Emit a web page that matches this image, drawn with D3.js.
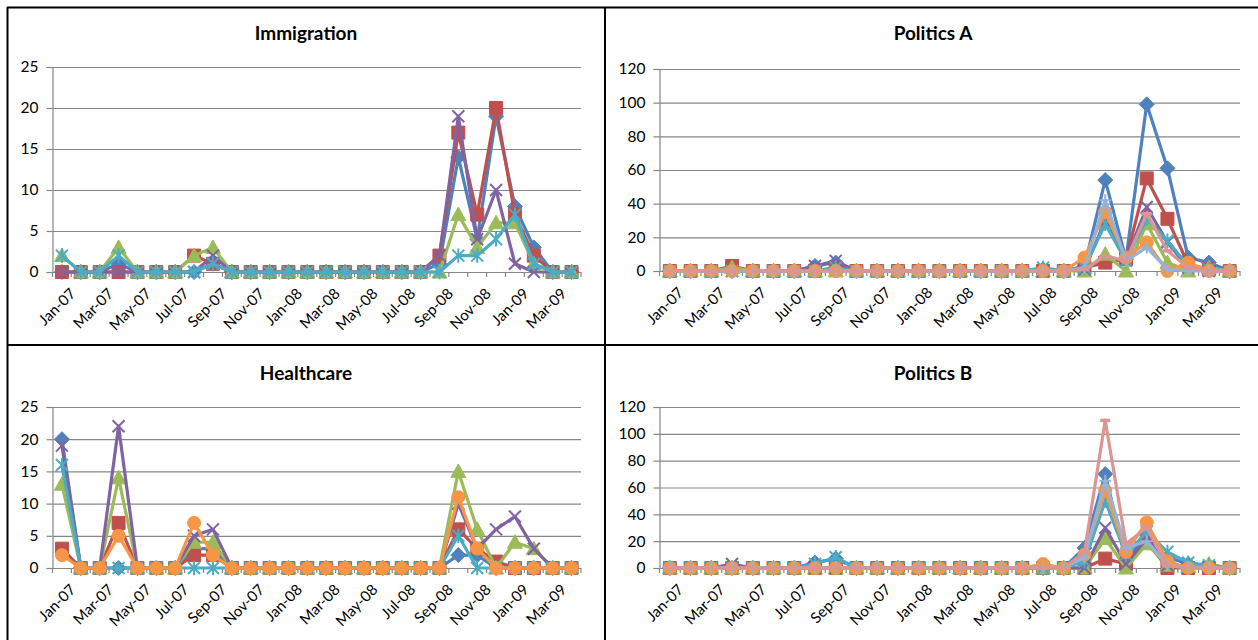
<!DOCTYPE html>
<html>
<head>
<meta charset="utf-8">
<script src="https://cdn.jsdelivr.net/npm/d3@7"></script>
<style>
  html, body { margin: 0; padding: 0; background: #fff; }
  svg { display: block; font-family: Lato, "Open Sans", sans-serif; }
</style>
</head>
<body>
<svg id="chart" width="1258" height="640"></svg>
<script>
// Monthly categories
const months = ["Jan-07","Feb-07","Mar-07","Apr-07","May-07","Jun-07","Jul-07","Aug-07","Sep-07","Oct-07","Nov-07","Dec-07",
                "Jan-08","Feb-08","Mar-08","Apr-08","May-08","Jun-08","Jul-08","Aug-08","Sep-08","Oct-08","Nov-08","Dec-08",
                "Jan-09","Feb-09","Mar-09","Apr-09"];
const tickLabels = ["Jan-07","Mar-07","May-07","Jul-07","Sep-07","Nov-07","Jan-08","Mar-08","May-08","Jul-08","Sep-08","Nov-08","Jan-09","Mar-09"];

// Immigration
const immS1 = [0,0,0,1,0,0,0,0,1,0,0,0,0,0,0,0,0,0,0,0,1,14,4,19,8,3,0,0];
const immS2 = [0,0,0,0,0,0,0,2,1,0,0,0,0,0,0,0,0,0,0,0,2,17,7,20,7,2,0,0];
const immS3 = [2,0,0,3,0,0,0,2,3,0,0,0,0,0,0,0,0,0,0,0,0,7,3,6,6,1,0,0];
const immS4 = [0,0,0,0,0,0,0,0,2,0,0,0,0,0,0,0,0,0,0,0,2,19,4,10,1,0,0,0];
const immS5 = [2,0,0,2,0,0,0,0,1,0,0,0,0,0,0,0,0,0,0,0,0,2,2,4,7,1,0,0];

// Healthcare
const hcS1 = [20,0,0,0,0,0,0,3,3,0,0,0,0,0,0,0,0,0,0,0,0,2,2,0,0,0,0,0];
const hcS2 = [3,0,0,7,0,0,0,2,2,0,0,0,0,0,0,0,0,0,0,0,0,6,3,1,0,0,0,0];
const hcS3 = [13,0,0,14,0,0,0,4,4,0,0,0,0,0,0,0,0,0,0,0,0,15,6,0,4,3,0,0];
const hcS4 = [19,0,0,22,0,0,0,5,6,0,0,0,0,0,0,0,0,0,0,0,0,10,3,6,8,3,0,0];
const hcS5 = [16,0,0,0,0,0,0,0,0,0,0,0,0,0,0,0,0,0,0,0,0,5,0,0,0,0,0,0];
const hcS6 = [2,0,0,5,0,0,0,7,2,0,0,0,0,0,0,0,0,0,0,0,0,11,3,0,0,0,0,0];

// Politics A
const paS1 = [0,0,0,0,0,0,0,3,5,0,0,0,0,0,0,0,0,0,1,0,3,54,7,99,61,8,5,0];
const paS2 = [0,0,0,3,0,0,0,0,2,0,0,0,0,0,0,0,0,0,0,0,2,5,7,55,31,4,1,0];
const paS3 = [0,0,0,2,0,0,0,0,0,0,0,0,0,0,0,0,0,0,0,0,0,10,0,28,5,0,2,0];
const paS4 = [0,0,0,0,0,0,0,3,6,0,0,0,0,0,0,0,0,0,0,0,1,30,7,38,17,2,0,0];
const paS5 = [0,0,0,0,0,0,0,0,2,0,0,0,0,0,0,0,0,0,2,0,2,28,6,31,18,3,1,0];
const paS6 = [0,0,0,0,0,0,0,0,0,0,0,0,0,0,0,0,0,0,0,0,8,35,8,17,0,5,0,0];
const paS7 = [0,0,0,0,0,0,0,0,0,0,0,0,0,0,0,0,0,0,0,0,2,42,6,14,1,0,0,0];
const paS8 = [0,0,0,0,0,0,0,0,0,0,0,0,0,0,0,0,0,0,0,0,1,9,6,34,12,2,0,0];

// Politics B
const pbS1 = [0,0,0,0,0,0,0,4,7,0,0,0,0,0,0,0,0,0,0,0,15,70,5,25,8,3,1,0];
const pbS2 = [0,0,0,0,0,0,0,0,0,0,0,0,0,0,0,0,0,0,0,0,0,7,3,20,0,0,0,0];
const pbS3 = [0,0,0,0,0,0,0,0,0,0,0,0,0,0,0,0,0,0,0,0,0,22,0,18,2,1,3,0];
const pbS4 = [0,0,0,3,0,0,0,0,0,0,0,0,0,0,0,0,0,0,0,0,0,30,3,22,2,0,0,0];
const pbS5 = [0,0,0,0,0,0,0,3,8,0,0,0,0,0,0,0,0,0,0,0,5,50,10,27,12,4,2,0];
const pbS6 = [0,0,0,0,0,0,0,0,0,0,0,0,0,0,0,0,0,0,3,0,10,58,12,34,5,0,0,0];
const pbS7 = [0,0,0,0,0,0,0,0,0,0,0,0,0,0,0,0,0,0,0,0,8,65,15,20,2,0,0,0];
const pbS8 = [0,0,0,0,0,0,0,0,0,0,0,0,0,0,0,0,0,0,0,0,12,110,18,30,2,0,0,0];

const seriesColors  = ["#4F81BD","#C0504D","#9BBB59","#8064A2","#4BACC6","#F79646","#95B3D7","#D99694"];
const seriesMarkers = ["diamond","square","triangle","x","star","circle","plus","dash"];

// Marker shapes (size argument = half-width in px)
const shapes = {
  diamond:  { draw(c, r) { c.moveTo(0,-r); c.lineTo(r,0); c.lineTo(0,r); c.lineTo(-r,0); c.closePath(); } },
  square:   { draw(c, r) { c.rect(-r,-r,2*r,2*r); } },
  triangle: { draw(c, r) { c.moveTo(0,-r); c.lineTo(r,r*0.8); c.lineTo(-r,r*0.8); c.closePath(); } },
  circle:   { draw(c, r) { c.moveTo(r,0); c.arc(0,0,r,0,2*Math.PI); } },
  x:        { draw(c, r) { c.moveTo(-r,-r); c.lineTo(r,r); c.moveTo(r,-r); c.lineTo(-r,r); } },
  star:     { draw(c, r) { c.moveTo(-r,-r); c.lineTo(r,r); c.moveTo(r,-r); c.lineTo(-r,r); c.moveTo(0,-r*1.2); c.lineTo(0,r*1.2); } },
  plus:     { draw(c, r) { c.moveTo(-r,0); c.lineTo(r,0); c.moveTo(0,-r); c.lineTo(0,r); } },
  dash:     { draw(c, r) { c.moveTo(-r,0); c.lineTo(r,0); } }
};
const markerSize = { diamond:7.5, square:6.5, triangle:7.5, circle:6.5, x:6, star:6, plus:6, dash:5 };
const filledMarkers = new Set(["diamond","square","triangle","circle"]);

const panels = [
  { title:"Immigration", series:[immS1,immS2,immS3,immS4,immS5], yMax:25, yStep:5,
    left:52.5, right:581, top:67, bottom:272, titleX:306, titleY:40 },
  { title:"Politics A", series:[paS1,paS2,paS3,paS4,paS5,paS6,paS7,paS8], yMax:120, yStep:20,
    left:659.5, right:1240, top:69, bottom:271, titleX:933, titleY:40 },
  { title:"Healthcare", series:[hcS1,hcS2,hcS3,hcS4,hcS5,hcS6], yMax:25, yStep:5,
    left:52.5, right:581, top:407, bottom:568, titleX:306, titleY:380 },
  { title:"Politics B", series:[pbS1,pbS2,pbS3,pbS4,pbS5,pbS6,pbS7,pbS8], yMax:120, yStep:20,
    left:659.5, right:1240, top:407, bottom:568, titleX:933, titleY:380 }
];

const svg = d3.select("#chart");
const gridColor = "#878787";

panels.forEach(p => {
  const g = svg.append("g");
  const x = d3.scaleBand().domain(months).range([p.left, p.right]).padding(0);
  const y = d3.scaleLinear().domain([0, p.yMax]).range([p.bottom, p.top]);
  const cx = d => x(d) + x.bandwidth() / 2;
  const yTicks = d3.range(0, p.yMax + 1, p.yStep);

  // Horizontal gridlines
  const grid = g.append("g").attr("transform", `translate(${p.left},0)`)
    .call(d3.axisLeft(y).tickValues(yTicks).tickSize(-(p.right - p.left)).tickFormat(""));
  grid.select(".domain").remove();
  grid.selectAll("line").attr("stroke", gridColor).attr("stroke-width", 1.2);

  // Value axis with labels
  const ya = g.append("g").attr("transform", `translate(${p.left},0)`)
    .call(d3.axisLeft(y).tickValues(yTicks).tickSize(6).tickPadding(8));
  ya.select(".domain").attr("stroke", gridColor).attr("stroke-width", 1.2);
  ya.selectAll("line").attr("stroke", gridColor).attr("stroke-width", 1.2);
  ya.selectAll("text").attr("fill", "#000").style("font-size", "15.5px")
    .style("font-family", "Lato, 'Open Sans', sans-serif");

  // Category tick marks between months
  const bounds = months.map(m => x(m)).concat([p.right]);
  g.append("g").selectAll("line").data(bounds).join("line")
    .attr("x1", d => d).attr("x2", d => d)
    .attr("y1", p.bottom).attr("y2", p.bottom + 5)
    .attr("stroke", gridColor).attr("stroke-width", 1.2);

  // Rotated category labels
  g.append("g").selectAll("text").data(tickLabels).join("text")
    .attr("transform", d => `translate(${cx(d) + 7},${p.bottom + 15}) rotate(-45)`)
    .attr("text-anchor", "end")
    .attr("dy", "0.72em")
    .style("font-size", "15px")
    .attr("fill", "#000")
    .text(d => d);

  // Series lines and markers
  const line = d3.line().x((v, i) => cx(months[i])).y(v => y(v));
  p.series.forEach((vals, si) => {
    const color = seriesColors[si];
    const mk = seriesMarkers[si];
    g.append("path").datum(vals)
      .attr("d", line)
      .attr("fill", "none")
      .attr("stroke", color)
      .attr("stroke-width", 3.2)
      .attr("stroke-linejoin", "round");
    const sym = d3.symbol().type(shapes[mk]).size(markerSize[mk]);
    const filled = filledMarkers.has(mk);
    g.append("g").selectAll("path").data(vals).join("path")
      .attr("transform", (v, i) => `translate(${cx(months[i])},${y(v)})`)
      .attr("d", sym)
      .attr("fill", filled ? color : "none")
      .attr("stroke", color)
      .attr("stroke-width", filled ? 1 : (mk === "dash" ? 3.5 : 2));
  });

  // Panel title
  g.append("text")
    .attr("x", p.titleX).attr("y", p.titleY)
    .attr("text-anchor", "middle")
    .style("font-size", "19px").style("font-weight", "bold")
    .attr("fill", "#000")
    .text(p.title);
});

// Panel frame
const frame = svg.append("g").attr("stroke", "#000").attr("stroke-width", 2);
frame.append("line").attr("x1", 7).attr("x2", 1258).attr("y1", 7.5).attr("y2", 7.5);
frame.append("line").attr("x1", 7.5).attr("x2", 7.5).attr("y1", 7).attr("y2", 640);
frame.append("line").attr("x1", 605).attr("x2", 605).attr("y1", 7).attr("y2", 640);
frame.append("line").attr("x1", 7).attr("x2", 1258).attr("y1", 345).attr("y2", 345);
</script>
</body>
</html>
